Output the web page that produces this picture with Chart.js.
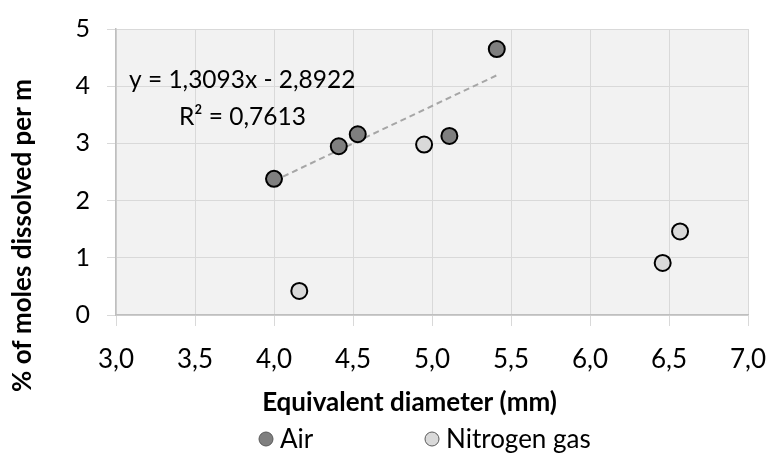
<!DOCTYPE html>
<html><head><meta charset="utf-8">
<script src="https://cdn.jsdelivr.net/npm/chart.js@4/dist/chart.umd.min.js"></script>
<style>html,body{margin:0;padding:0;background:#fff}#wrap{width:769px;height:454px;position:relative}</style>
</head><body><div id="wrap"><canvas id="c" width="769" height="454"></canvas></div>
<script>
// ---- data ----
const airX = [4.00, 4.41, 4.53, 5.11, 5.41];
const airY = [2.38, 2.95, 3.16, 3.13, 4.65];
const nitrogenX = [4.16, 4.95, 6.46, 6.57];
const nitrogenY = [0.42, 2.98, 0.91, 1.46];
const seriesNames = ['Air', 'Nitrogen gas'];
const trendSlope = 1.3093;
const trendIntercept = -2.8922;
const trendLabels = ['y = 1,3093x - 2,8922', 'R\u00b2 = 0,7613'];
const xTickLabels = ['3,0', '3,5', '4,0', '4,5', '5,0', '5,5', '6,0', '6,5', '7,0'];
const yTickLabels = ['0', '1', '2', '3', '4', '5'];
const xTitle = 'Equivalent diameter (mm)';
const yTitle = '% of moles dissolved per m';

// ---- build ----
const FONT = 'Lato, "Open Sans", sans-serif';
const airPts = airX.map((x, i) => ({x: x, y: airY[i]}));
const nitrogenPts = nitrogenX.map((x, i) => ({x: x, y: nitrogenY[i]}));
const tx0 = Math.min(...airX), tx1 = Math.max(...airX);
const trendPts = [tx0, tx1].map(x => ({x: x, y: trendSlope * x + trendIntercept}));

const plotBg = {
  id: 'plotBg',
  beforeDraw(chart) {
    const a = chart.chartArea, ctx = chart.ctx;
    ctx.save(); ctx.fillStyle = '#f2f2f2';
    ctx.fillRect(a.left, a.top, a.right - a.left, a.bottom - a.top);
    ctx.restore();
  }
};

const extras = {
  id: 'extras',
  afterDraw(chart) {
    const ctx = chart.ctx, a = chart.chartArea;
    ctx.save();
    // trendline label
    ctx.fillStyle = '#000';
    ctx.font = '24.5px ' + FONT;
    ctx.textBaseline = 'middle';
    ctx.textAlign = 'left';
    ctx.fillText(trendLabels[0], a.left + 13, a.top + 51);
    ctx.fillText(trendLabels[1], a.left + 63, a.top + 88);
    // x title
    ctx.font = 'bold 26px ' + FONT;
    ctx.textAlign = 'center';
    ctx.fillText(xTitle, 409.5, 403);
    // y title
    ctx.save();
    ctx.translate(23, a.bottom + 77);
    ctx.rotate(-Math.PI / 2);
    ctx.font = 'bold 26px ' + FONT;
    ctx.textAlign = 'left';
    ctx.textBaseline = 'middle';
    ctx.fillText(yTitle, 0, 0);
    ctx.restore();
    // legend
    const ds = chart.data.datasets;
    const items = [{x: 266, i: 0}, {x: 432, i: 1}];
    ctx.font = '26px ' + FONT;
    ctx.textAlign = 'left';
    ctx.textBaseline = 'middle';
    items.forEach(it => {
      const d = ds[it.i];
      ctx.beginPath();
      ctx.arc(it.x, 439, 7, 0, Math.PI * 2);
      ctx.fillStyle = d.backgroundColor;
      ctx.fill();
      ctx.lineWidth = 1;
      ctx.strokeStyle = '#595959';
      ctx.stroke();
      ctx.fillStyle = '#000';
      ctx.fillText(d.label, it.x + 14, 440);
    });
    ctx.restore();
  }
};

new Chart(document.getElementById('c'), {
  type: 'scatter',
  data: {
    datasets: [
      {label: seriesNames[0], data: airPts, backgroundColor: '#7f7f7f', borderColor: '#000',
       borderWidth: 2, pointRadius: 8, pointHoverRadius: 8, order: 0},
      {label: seriesNames[1], data: nitrogenPts, backgroundColor: '#d9d9d9', borderColor: '#000',
       borderWidth: 2, pointRadius: 8, pointHoverRadius: 8, order: 1},
      {type: 'line', label: 'Linear (Air)', data: trendPts, borderColor: '#a6a6a6', borderWidth: 2,
       borderDash: [6, 4], pointRadius: 0, fill: false, showLine: true, order: 5}
    ]
  },
  options: {
    responsive: false,
    animation: false,
    devicePixelRatio: 1,
    layout: {padding: {top: 29, right: 21, left: 0, bottom: 35}},
    plugins: {legend: {display: false}, tooltip: {enabled: false}},
    scales: {
      x: {
        type: 'linear', min: 3, max: 7,
        ticks: {stepSize: 0.5, autoSkip: false, maxRotation: 0, padding: 18, color: '#000',
          font: {family: FONT, size: 26},
          callback: (v, i) => xTickLabels[i]},
        grid: {color: '#d9d9d9', tickColor: '#d9d9d9', tickLength: 11, lineWidth: 1},
        border: {color: '#bfbfbf', width: 1.5},
        title: {display: false},
        afterFit: s => { s.height = 104; s.paddingLeft = 0; s.paddingRight = 0; }
      },
      y: {
        type: 'linear', min: 0, max: 5,
        ticks: {stepSize: 1, padding: 17, color: '#000',
          font: {family: FONT, size: 25},
          callback: (v, i) => yTickLabels[i]},
        grid: {color: '#d9d9d9', tickColor: '#d9d9d9', tickLength: 9, lineWidth: 1},
        border: {color: '#bfbfbf', width: 1.5},
        afterFit: s => { s.width = 116; s.paddingTop = 0; s.paddingBottom = 0; }
      }
    }
  },
  plugins: [plotBg, extras]
});
</script>
</body></html>
